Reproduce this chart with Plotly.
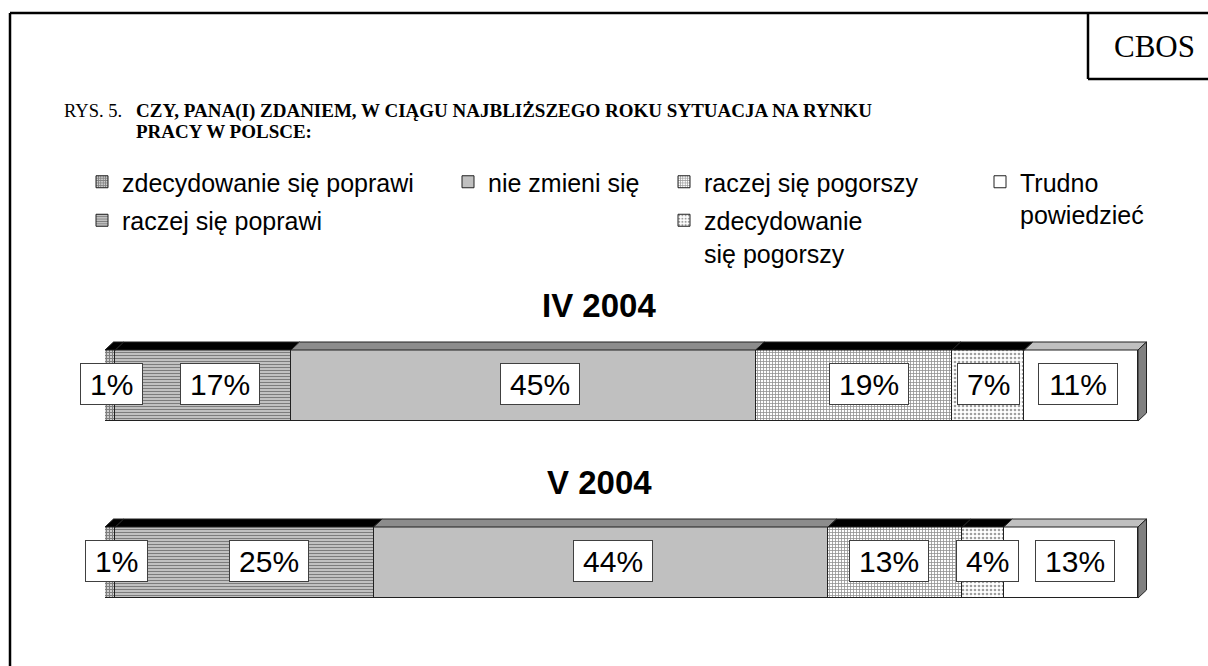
import numpy as np
import plotly.graph_objects as go

# ---------------- data ----------------
categories = ["zdecydowanie się poprawi", "raczej się poprawi", "nie zmieni się",
              "raczej się pogorszy", "zdecydowanie się pogorszy", "Trudno powiedzieć"]
legend_names = ["zdecydowanie się poprawi", "raczej się poprawi", "nie zmieni się",
                "raczej się pogorszy", "zdecydowanie<br>się pogorszy", "Trudno<br>powiedzieć"]
periods = ["IV 2004", "V 2004"]
values_iv = [1, 17, 45, 19, 7, 11]
values_v = [1, 25, 44, 13, 4, 13]
title_prefix = "RYS. 5."
title_line1 = "CZY, PANA(I) ZDANIEM, W CIĄGU NAJBLIŻSZEGO ROKU SYTUACJA NA RYNKU"
title_line2 = "PRACY W POLSCE:"
source = "CBOS"

# ---------------- styles ----------------
W, H = 1208, 666
x_left_px, x_right_px = 105, 1138
px_per_unit_x = (x_right_px - x_left_px) / 100.0
x_extra = 2.0  # room for the 3D side face
px_per_unit_y = 177.0
bar_h = 71 / px_per_unit_y
y_range = [(666 - 385.5) / px_per_unit_y, -385.5 / px_per_unit_y]
dx = 8.5 / px_per_unit_x
dy = 8 / px_per_unit_y

front_styles = [
    dict(color="white", pattern=dict(shape="+", size=3, solidity=0.7, fgcolor="black", bgcolor="white")),
    dict(color="white", pattern=dict(shape="-", size=3, solidity=0.5, fgcolor="#202020", bgcolor="#d8d8d8")),
    dict(color="#c0c0c0"),
    dict(color="white", pattern=dict(shape="+", size=3, solidity=0.45, fgcolor="#202020", bgcolor="white")),
    dict(color="white", pattern=dict(shape=".", size=4, solidity=0.35, fgcolor="#404040", bgcolor="white")),
    dict(color="white"),
]
top_colors = ["black", "black", "#8c8c8c", "black", "black", "#c0c0c0"]
legend_ids = ["legend", "legend", "legend2", "legend3", "legend3", "legend4"]
label_shift_px = [[1, 17, 17, 15, 0, -3], [6, 25, 12, -6, 4, 4]]

fig = go.Figure()
series = [values_iv, values_v]

for k, cat in enumerate(categories):
    fig.add_trace(go.Bar(
        y=periods, x=[values_iv[k], values_v[k]], orientation="h",
        width=bar_h, name=legend_names[k], legend=legend_ids[k],
        legendgroup=cat,
        marker=dict(line=dict(color="#202020", width=1), **front_styles[k]),
        hoverinfo="skip",
    ))

shapes = []
annotations = []
for i, vals in enumerate(series):
    cum = np.concatenate([[0], np.cumsum(vals)])
    ytop = i - bar_h / 2
    ybot = i + bar_h / 2
    for k in range(len(vals)):
        x0, x1 = cum[k], cum[k + 1]
        shapes.append(dict(
            type="path", xref="x", yref="y",
            path=f"M {x0},{ytop} L {x1},{ytop} L {x1+dx},{ytop-dy} L {x0+dx},{ytop-dy} Z",
            fillcolor=top_colors[k], line=dict(color="#202020", width=1), layer="above"))
        txt = f"{vals[k]}%"
        ndig = len(str(vals[k]))
        annotations.append(dict(
            x=(x0 + x1) / 2 + label_shift_px[i][k] / px_per_unit_x, y=i - 2 / px_per_unit_y,
            xref="x", yref="y", text=txt, showarrow=False,
            font=dict(family="Liberation Sans, Arial", size=30, color="black"),
            bgcolor="white", bordercolor="#404040", borderwidth=1, borderpad=1,
            width=16.7 * ndig + 26.7 + 16, height=38, align="center", valign="middle"))
    # right side face
    xe = cum[-1]
    shapes.append(dict(
        type="path", xref="x", yref="y",
        path=f"M {xe},{ybot} L {xe},{ytop} L {xe+dx},{ytop-dy} L {xe+dx},{ybot-dy} Z",
        fillcolor="#808080", line=dict(color="#202020", width=1), layer="above"))
    # period title
    annotations.append(dict(
        x=599 / W, xref="paper", y=i - 0.45, yref="y", text=f"<b>{periods[i]}</b>",
        showarrow=False, font=dict(family="Liberation Sans, Arial", size=33, color="black"),
        xanchor="center", yanchor="middle"))

# frame
def px(x):
    return x / W

def py(y):
    return 1 - y / H

line_style = dict(color="black", width=2.5)
shapes += [
    dict(type="line", xref="paper", yref="paper", x0=px(10), x1=px(1208), y0=py(13), y1=py(13), line=line_style),
    dict(type="line", xref="paper", yref="paper", x0=px(10), x1=px(10), y0=py(13), y1=py(666), line=line_style),
    dict(type="line", xref="paper", yref="paper", x0=px(1088), x1=px(1088), y0=py(13), y1=py(79), line=line_style),
    dict(type="line", xref="paper", yref="paper", x0=px(1088), x1=px(1208), y0=py(79), y1=py(79), line=line_style),
]

serif = "Liberation Serif, Times New Roman"
annotations += [
    dict(x=px(1154), y=py(46), xref="paper", yref="paper", text=source, showarrow=False,
         font=dict(family=serif, size=31, color="black"), xanchor="center", yanchor="middle"),
    dict(x=px(62), y=py(111), xref="paper", yref="paper", text=title_prefix, showarrow=False,
         font=dict(family=serif, size=18.5, color="black"), xanchor="left", yanchor="middle"),
    dict(x=px(134), y=py(111), xref="paper", yref="paper", text=f"<b>{title_line1}</b>", showarrow=False,
         font=dict(family=serif, size=19, color="black"), xanchor="left", yanchor="middle"),
    dict(x=px(134), y=py(131), xref="paper", yref="paper", text=f"<b>{title_line2}</b>", showarrow=False,
         font=dict(family=serif, size=19, color="black"), xanchor="left", yanchor="middle"),
]

legend_font = dict(family="Liberation Sans, Arial", size=25, color="black")
def leg(xtext, ytop):
    return dict(x=px(xtext - 42), y=py(ytop), xanchor="left", yanchor="top",
                orientation="v", font=legend_font, bgcolor="rgba(0,0,0,0)",
                tracegroupgap=3, valign="top", itemclick=False, itemdoubleclick=False)

fig.update_layout(
    width=W, height=H, margin=dict(l=0, r=0, t=0, b=0),
    paper_bgcolor="white", plot_bgcolor="white",
    barmode="stack", bargap=0,
    showlegend=True,
    legend=leg(124, 159),
    legend2=leg(490, 159),
    legend3=leg(706, 159),
    legend4=leg(1022, 159),
    xaxis=dict(domain=[x_left_px / W, (x_right_px + x_extra * px_per_unit_x) / W],
               range=[0, 100 + x_extra], visible=False, fixedrange=True),
    yaxis=dict(range=y_range, visible=False, fixedrange=True, type="category"),
    shapes=shapes, annotations=annotations,
)

fig.write_html("out.html", config={"displayModeBar": False},
               post_script="document.body.style.margin='0';document.body.style.overflow='hidden';")
